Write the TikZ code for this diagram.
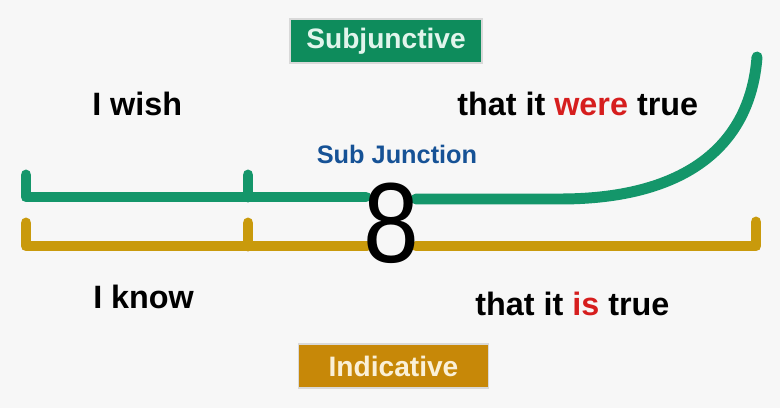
\documentclass[tikz,border=0pt]{standalone}
\usepackage{fontspec}
\setmainfont{Liberation Sans}
\usetikzlibrary{positioning}

\definecolor{subgreen}{RGB}{20,150,106}
\definecolor{boxgreen}{RGB}{14,140,92}
\definecolor{indgold}{RGB}{201,154,12}
\definecolor{boxgold}{RGB}{199,136,8}
\definecolor{junblue}{RGB}{22,82,150}
\definecolor{wordred}{RGB}{214,30,30}
\definecolor{labelgreen}{RGB}{225,245,236}
\definecolor{labelgold}{RGB}{250,240,215}

\begin{document}
\begin{tikzpicture}[
            x=0.025cm, y=-0.025cm,
            track/.style={
                line width=7.8pt,
                line cap=round,
                line join=round
            },
            tagbox/.style={
                draw=gray!30,
                line width=0.8pt,
                minimum width=4.8cm,
                minimum height=1.1cm,
                font=\fontsize{20}{20}\selectfont\bfseries
            },
            phrase/.style={
                anchor=base west,
                inner sep=0pt,
                font=\fontsize{23}{23}\selectfont\bfseries
            }
        ]

            \fill[black!3] (0,0) rectangle (780,408);
            \useasboundingbox (0,0) rectangle (780,408);

            % --- Mood labels ---
            \node[tagbox, fill=boxgreen, text=labelgreen] (subj) at (386,41) {Subjunctive};
            \node[tagbox, fill=boxgold, text=labelgold, minimum width=4.73cm] (indic) at (393.5,366) {Indicative};

            % --- Phrases ---
            \node[phrase] (wish) at (92,115) {I wish};
            \node[phrase] (were) at (457,115) {that it \textcolor{wordred}{were} true};
            \node[phrase] (know) at (93,308) {I know};
            \node[phrase] (is) at (475,315) {that it \textcolor{wordred}{is} true};

            \node[anchor=base, inner sep=0pt, text=junblue,
                font=\fontsize{18}{18}\selectfont\bfseries] (subjun) at (397,163) {Sub Junction};

            % --- Subjunctive track ---
            \coordinate (gA) at (26,175);
            \coordinate (gB) at (26,197);
            \coordinate (gT) at (248,175);
            \coordinate (gM) at (248,197);
            \coordinate (gE) at (366,197);
            \coordinate (gS) at (416,199);
            \coordinate (gK) at (560,199);
            \coordinate (gTop) at (757,57);
            \draw[track, subgreen] (gA) -- (gB) -- (gE);
            \draw[track, subgreen] (gT) -- (gM);
            \draw[track, subgreen] (gS) -- (gK) .. controls (680,199) and (750,150) .. (gTop);

            % --- Indicative track ---
            \coordinate (iA) at (26,223);
            \coordinate (iB) at (26,246);
            \coordinate (iT) at (248,223);
            \coordinate (iM) at (248,246);
            \coordinate (iE) at (367,246);
            \coordinate (iS) at (416,246);
            \coordinate (iR) at (756,246);
            \coordinate (iTop) at (756,222);
            \draw[track, indgold] (iA) -- (iB) -- (iE);
            \draw[track, indgold] (iT) -- (iM);
            \draw[track, indgold] (iS) -- (iR) -- (iTop);

            % --- Junction ---
            \node[anchor=base, inner sep=0pt, xscale=0.88,
                font=\fontsize{81}{81}\selectfont] (eight) at (391.5,262) {8};
        \end{tikzpicture}
\end{document}
